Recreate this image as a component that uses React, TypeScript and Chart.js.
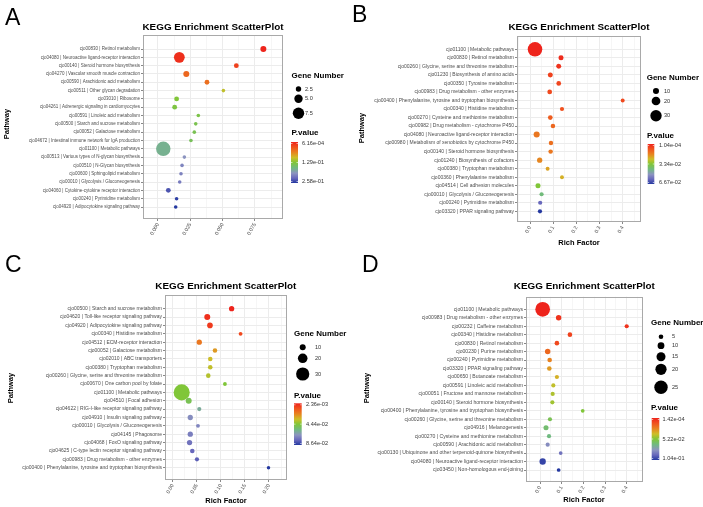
import React, { useEffect, useRef } from "react";
import { Chart, registerables } from "chart.js";

Chart.register(...registerables);

const FONT = '"Liberation Sans", Arial, Helvetica, sans-serif';

// ---------------- Panel A ----------------
const A_PATHWAYS = [
  "cjo00830 | Retinol metabolism",
  "cjo04080 | Neuroactive ligand-receptor interaction",
  "cjo00140 | Steroid hormone biosynthesis",
  "cjo04270 | Vascular smooth muscle contraction",
  "cjo00590 | Arachidonic acid metabolism",
  "cjo00511 | Other glycan degradation",
  "cjo03010 | Ribosome",
  "cjo04261 | Adrenergic signaling in cardiomyocytes",
  "cjo00591 | Linoleic acid metabolism",
  "cjo00500 | Starch and sucrose metabolism",
  "cjo00052 | Galactose metabolism",
  "cjo04672 | Intestinal immune network for IgA production",
  "cjo01100 | Metabolic pathways",
  "cjo00513 | Various types of N-glycan biosynthesis",
  "cjo00510 | N-Glycan biosynthesis",
  "cjo00600 | Sphingolipid metabolism",
  "cjo00010 | Glycolysis / Gluconeogenesis",
  "cjo04060 | Cytokine-cytokine receptor interaction",
  "cjo00240 | Pyrimidine metabolism",
  "cjo04920 | Adipocytokine signaling pathway",
];
const A_RICH = [0.0815, 0.0165, 0.0606, 0.0219, 0.0379, 0.0506, 0.0144, 0.0129, 0.0312, 0.0292, 0.0281, 0.0255, 0.0041, 0.0204, 0.0186, 0.0178, 0.0168, 0.008, 0.0144, 0.0137];
const A_GENES = [3, 7, 2, 3, 2, 1, 2, 2, 1, 1, 1, 1, 10, 1, 1, 1, 1, 2, 1, 1];
const A_PVALUE = [0.000616, 0.0083, 0.021, 0.047, 0.052, 0.104, 0.129, 0.134, 0.137, 0.14, 0.142, 0.145, 0.171, 0.196, 0.207, 0.209, 0.214, 0.24, 0.253, 0.258];
const A_TICKS = [0, 0.025, 0.05, 0.075];
const A_TICK_LABELS = ["0.000", "0.025", "0.050", "0.075"];
const A_GENE_BREAKS = [2.5, 5, 7.5];
const A_GENE_LABELS = ["2.5", "5.0", "7.5"];
const A_P_LABELS = ["6.16e-04", "1.29e-01", "2.58e-01"];

// ---------------- Panel B ----------------
const B_PATHWAYS = [
  "cjo01100 | Metabolic pathways",
  "cjo00830 | Retinol metabolism",
  "cjo00260 | Glycine, serine and threonine metabolism",
  "cjo01230 | Biosynthesis of amino acids",
  "cjo00350 | Tyrosine metabolism",
  "cjo00983 | Drug metabolism - other enzymes",
  "cjo00400 | Phenylalanine, tyrosine and tryptophan biosynthesis",
  "cjo00340 | Histidine metabolism",
  "cjo00270 | Cysteine and methionine metabolism",
  "cjo00982 | Drug metabolism - cytochrome P450",
  "cjo04080 | Neuroactive ligand-receptor interaction",
  "cjo00980 | Metabolism of xenobiotics by cytochrome P450",
  "cjo00140 | Steroid hormone biosynthesis",
  "cjo01240 | Biosynthesis of cofactors",
  "cjo00380 | Tryptophan metabolism",
  "cjo00360 | Phenylalanine metabolism",
  "cjo04514 | Cell adhesion molecules",
  "cjo00010 | Glycolysis / Gluconeogenesis",
  "cjo00240 | Pyrimidine metabolism",
  "cjo03320 | PPAR signaling pathway",
];
const B_RICH = [0.0216, 0.134, 0.124, 0.0876, 0.124, 0.085, 0.4, 0.138, 0.0876, 0.099, 0.0287, 0.0905, 0.089, 0.0417, 0.076, 0.138, 0.0345, 0.05, 0.044, 0.043];
const B_GENES = [42, 6, 6, 6, 5, 5, 2, 3, 5, 4, 10, 4, 4, 7, 2, 2, 6, 3, 3, 3];
const B_PVALUE = [0.000104, 0.00144, 0.00277, 0.00543, 0.0061, 0.00676, 0.0068, 0.0081, 0.0101, 0.0121, 0.0148, 0.0134, 0.0148, 0.0174, 0.0214, 0.0234, 0.0334, 0.0414, 0.0587, 0.0667];
const B_TICKS = [0, 0.1, 0.2, 0.3, 0.4];
const B_TICK_LABELS = ["0.0", "0.1", "0.2", "0.3", "0.4"];
const B_GENE_BREAKS = [10, 20, 30];
const B_GENE_LABELS = ["10", "20", "30"];
const B_P_LABELS = ["1.04e-04", "3.34e-02", "6.67e-02"];

// ---------------- Panel C ----------------
const C_PATHWAYS = [
  "cjo00500 | Starch and sucrose metabolism",
  "cjo04620 | Toll-like receptor signaling pathway",
  "cjo04920 | Adipocytokine signaling pathway",
  "cjo00340 | Histidine metabolism",
  "cjo04512 | ECM-receptor interaction",
  "cjo00052 | Galactose metabolism",
  "cjo02010 | ABC transporters",
  "cjo00380 | Tryptophan metabolism",
  "cjo00260 | Glycine, serine and threonine metabolism",
  "cjo00670 | One carbon pool by folate",
  "cjo01100 | Metabolic pathways",
  "cjo04510 | Focal adhesion",
  "cjo04622 | RIG-I-like receptor signaling pathway",
  "cjo04910 | Insulin signaling pathway",
  "cjo00010 | Glycolysis / Gluconeogenesis",
  "cjo04145 | Phagosome",
  "cjo04068 | FoxO signaling pathway",
  "cjo04625 | C-type lectin receptor signaling pathway",
  "cjo00983 | Drug metabolism - other enzymes",
  "cjo00400 | Phenylalanine, tyrosine and tryptophan biosynthesis",
];
const C_RICH = [0.1224, 0.0718, 0.0774, 0.141, 0.0552, 0.0878, 0.078, 0.078, 0.0739, 0.1085, 0.0187, 0.0332, 0.0552, 0.0365, 0.0525, 0.0365, 0.035, 0.0407, 0.0504, 0.199];
const C_GENES = [8, 10, 9, 4, 8, 6, 6, 6, 6, 4, 38, 10, 5, 8, 4, 8, 8, 6, 5, 3];
const C_PVALUE = [0.00236, 0.0049, 0.0074, 0.0108, 0.0209, 0.0276, 0.0343, 0.036, 0.0377, 0.0444, 0.0444, 0.0486, 0.0595, 0.0679, 0.0696, 0.0713, 0.0738, 0.0763, 0.078, 0.0864];
const C_TICKS = [0, 0.05, 0.1, 0.15, 0.2];
const C_TICK_LABELS = ["0.00", "0.05", "0.10", "0.15", "0.20"];
const C_GENE_BREAKS = [10, 20, 30];
const C_GENE_LABELS = ["10", "20", "30"];
const C_P_LABELS = ["2.36e-03", "4.44e-02", "8.64e-02"];

// ---------------- Panel D ----------------
const D_PATHWAYS = [
  "cjo01100 | Metabolic pathways",
  "cjo00983 | Drug metabolism - other enzymes",
  "cjo00232 | Caffeine metabolism",
  "cjo00340 | Histidine metabolism",
  "cjo00830 | Retinol metabolism",
  "cjo00230 | Purine metabolism",
  "cjo00240 | Pyrimidine metabolism",
  "cjo03320 | PPAR signaling pathway",
  "cjo00650 | Butanoate metabolism",
  "cjo00591 | Linoleic acid metabolism",
  "cjo00051 | Fructose and mannose metabolism",
  "cjo00140 | Steroid hormone biosynthesis",
  "cjo00400 | Phenylalanine, tyrosine and tryptophan biosynthesis",
  "cjo00260 | Glycine, serine and threonine metabolism",
  "cjo04916 | Melanogenesis",
  "cjo00270 | Cysteine and methionine metabolism",
  "cjo00590 | Arachidonic acid metabolism",
  "cjo00130 | Ubiquinone and other terpenoid-quinone biosynthesis",
  "cjo04080 | Neuroactive ligand-receptor interaction",
  "cjo03450 | Non-homologous end-joining",
];
const D_RICH = [0.0123, 0.086, 0.4, 0.138, 0.078, 0.0354, 0.0446, 0.043, 0.078, 0.0615, 0.0585, 0.057, 0.197, 0.046, 0.0277, 0.0415, 0.0354, 0.0954, 0.0123, 0.086];
const D_GENES = [28, 7, 4, 5, 5, 7, 5, 5, 4, 4, 4, 4, 3, 4, 6, 4, 4, 3, 9, 3];
const D_PVALUE = [0.000142, 0.0043, 0.0043, 0.0085, 0.0105, 0.0188, 0.0261, 0.0313, 0.0365, 0.0417, 0.0448, 0.0469, 0.0521, 0.0573, 0.0625, 0.0656, 0.0812, 0.0885, 0.1009, 0.104];
const D_TICKS = [0, 0.1, 0.2, 0.3, 0.4];
const D_TICK_LABELS = ["0.0", "0.1", "0.2", "0.3", "0.4"];
const D_GENE_BREAKS = [5, 10, 15, 20, 25];
const D_GENE_LABELS = ["5", "10", "15", "20", "25"];
const D_P_LABELS = ["1.42e-04", "5.22e-02", "1.04e-01"];

// colour ramp (low p = red, high p = blue)
const RAMP: [number, number[]][] = [
  [0, [238, 36, 28]],
  [0.12, [240, 80, 30]],
  [0.25, [232, 130, 32]],
  [0.38, [206, 190, 40]],
  [0.5, [128, 198, 56]],
  [0.63, [112, 186, 128]],
  [0.76, [140, 148, 192]],
  [0.88, [104, 104, 188]],
  [1, [36, 56, 160]],
];
function rampColor(t: number) {
  t = Math.max(0, Math.min(1, t));
  for (let i = 1; i < RAMP.length; i++) {
    const [t1, c1] = RAMP[i];
    const [t0, c0] = RAMP[i - 1];
    if (t <= t1) {
      const f = (t - t0) / (t1 - t0);
      const c = c0.map((v, k) => Math.round(v + (c1[k] - v) * f));
      return `rgb(${c[0]},${c[1]},${c[2]})`;
    }
  }
  return "rgb(36,56,160)";
}

type Panel = {
  letter: string;
  canvas: [number, number, number, number];
  plot: [number, number, number, number];
  rows: [number, number];
  xRange: [number, number];
  pathways: string[];
  rich: number[];
  genes: number[];
  pvalue: number[];
  ticks: number[];
  tickLabels: string[];
  geneBreaks: number[];
  geneLabels: string[];
  pLabels: string[];
  radius: [number, number];
  yFont: number;
  titleY: number;
  letterPos: [number, number];
  pathwayPos: [number, number];
  richPos: [number, number] | null;
  geneTitle: [number, number];
  geneCircles: { x: number; ys: number[]; lx: number };
  pTitle: [number, number];
  bar: [number, number, number, number];
  barLabelX: number;
};

const PANELS: Panel[] = [
  {
    letter: "A", canvas: [0, 0, 351, 253], plot: [143, 35, 283, 219], rows: [49, 207], xRange: [-0.0116, 0.0967],
    pathways: A_PATHWAYS, rich: A_RICH, genes: A_GENES, pvalue: A_PVALUE, ticks: A_TICKS, tickLabels: A_TICK_LABELS,
    geneBreaks: A_GENE_BREAKS, geneLabels: A_GENE_LABELS, pLabels: A_P_LABELS, radius: [1.2, 0.6],
    yFont: 4.5, titleY: 27,
    letterPos: [5, 25], pathwayPos: [7, 124], richPos: null,
    geneTitle: [291.5, 76], geneCircles: { x: 298.5, ys: [89, 98.7, 113.3], lx: 305 },
    pTitle: [291.5, 133], bar: [291, 142, 298, 183], barLabelX: 302,
  },
  {
    letter: "B", canvas: [351, 0, 352, 253], plot: [517, 36, 641, 222], rows: [49.3, 211.3], xRange: [-0.0561, 0.479],
    pathways: B_PATHWAYS, rich: B_RICH, genes: B_GENES, pvalue: B_PVALUE, ticks: B_TICKS, tickLabels: B_TICK_LABELS,
    geneBreaks: B_GENE_BREAKS, geneLabels: B_GENE_LABELS, pLabels: B_P_LABELS, radius: [1.7, 0.133],
    yFont: 5.0, titleY: 27,
    letterPos: [352, 22], pathwayPos: [362, 128], richPos: [579, 243],
    geneTitle: [646.7, 78], geneCircles: { x: 656, ys: [91, 101, 115.7], lx: 664 },
    pTitle: [647, 136], bar: [647.7, 144, 654.3, 184], barLabelX: 659,
  },
  {
    letter: "C", canvas: [0, 253, 351, 254], plot: [165, 295, 286.7, 480], rows: [308.7, 467.7], xRange: [-0.016, 0.2368],
    pathways: C_PATHWAYS, rich: C_RICH, genes: C_GENES, pvalue: C_PVALUE, ticks: C_TICKS, tickLabels: C_TICK_LABELS,
    geneBreaks: C_GENE_BREAKS, geneLabels: C_GENE_LABELS, pLabels: C_P_LABELS, radius: [1.2, 0.18],
    yFont: 5.0, titleY: 286.7,
    letterPos: [5, 272], pathwayPos: [11, 388], richPos: [226, 501],
    geneTitle: [294, 334], geneCircles: { x: 302.7, ys: [347.3, 358.3, 374], lx: 315 },
    pTitle: [294, 396], bar: [294, 403.3, 301.7, 445], barLabelX: 306,
  },
  {
    letter: "D", canvas: [351, 253, 352, 254], plot: [526, 296.7, 642.7, 482], rows: [309.3, 470], xRange: [-0.0646, 0.4738],
    pathways: D_PATHWAYS, rich: D_RICH, genes: D_GENES, pvalue: D_PVALUE, ticks: D_TICKS, tickLabels: D_TICK_LABELS,
    geneBreaks: D_GENE_BREAKS, geneLabels: D_GENE_LABELS, pLabels: D_P_LABELS, radius: [1.2, 0.22],
    yFont: 5.1, titleY: 286.7,
    letterPos: [362, 272], pathwayPos: [367, 388], richPos: [584, 500],
    geneTitle: [651, 323], geneCircles: { x: 661, ys: [336.7, 345.7, 356.7, 369.3, 387.3], lx: 672 },
    pTitle: [651, 408], bar: [651.7, 418, 659.3, 460], barLabelX: 662.5,
  },
];

function PanelChart({ p }: { p: Panel }) {
  const ref = useRef<HTMLCanvasElement | null>(null);
  useEffect(() => {
    const canvas = ref.current;
    if (!canvas) return;
    const [cx, cy, cw, ch] = p.canvas;
    const [L, T, R, B] = p.plot;
    const n = p.pathways.length;
    const s = (p.rows[1] - p.rows[0]) / (n - 1);
    const yMin = -(p.rows[0] - T) / s;
    const yMax = n - 1 + (B - p.rows[1]) / s;
    const pMin = Math.min(...p.pvalue);
    const pMax = Math.max(...p.pvalue);
    const rad = (g: number) => p.radius[0] + p.radius[1] * g;
    const step = p.ticks[1] - p.ticks[0];
    const minor: number[] = [];
    for (let v = p.ticks[0] - step / 2; v <= p.xRange[1]; v += step) {
      if (v >= p.xRange[0]) minor.push(+v.toFixed(6));
    }
    const allX = [...p.ticks, ...minor].sort((a, b) => a - b);
    const isMinor = (v: number) => minor.some((m) => Math.abs(m - v) < 1e-9);
    const labelFor = (v: number) => {
      const i = p.ticks.findIndex((t) => Math.abs(t - v) < 1e-9);
      return i >= 0 ? p.tickLabels[i] : "";
    };

    const points = p.rich.map((x, i) => ({ x, y: i }));
    const radii = p.genes.map(rad);
    const colors = p.pvalue.map((v) => rampColor((v - pMin) / (pMax - pMin)));

    const decor = {
      id: "decor" + p.letter,
      afterDraw(chart: any) {
        const ctx: CanvasRenderingContext2D = chart.ctx;
        const ox = cx, oy = cy;
        ctx.save();
        const a = chart.chartArea;
        ctx.strokeStyle = "#A9A9A9";
        ctx.lineWidth = 1;
        ctx.strokeRect(Math.round(a.left) + 0.5, Math.round(a.top) + 0.5, Math.round(a.right - a.left) - 1, Math.round(a.bottom - a.top) - 1);
        ctx.fillStyle = "#000";
        ctx.textAlign = "left";
        ctx.textBaseline = "alphabetic";
        ctx.font = `23px ${FONT}`;
        ctx.fillText(p.letter, p.letterPos[0] - ox, p.letterPos[1] - oy);
        ctx.font = `bold 9.9px ${FONT}`;
        ctx.textAlign = "center";
        ctx.textBaseline = "middle";
        ctx.fillText("KEGG Enrichment ScatterPlot", (L + R) / 2 - ox, p.titleY - oy);
        ctx.font = `bold 7.5px ${FONT}`;
        if (p.richPos) ctx.fillText("Rich Factor", p.richPos[0] - ox, p.richPos[1] - oy);
        ctx.save();
        ctx.translate(p.pathwayPos[0] - ox, p.pathwayPos[1] - oy);
        ctx.rotate(-Math.PI / 2);
        ctx.fillText("Pathway", 0, 0);
        ctx.restore();
        ctx.textAlign = "left";
        ctx.font = `bold 8px ${FONT}`;
        ctx.fillText("Gene Number", p.geneTitle[0] - ox, p.geneTitle[1] - oy);
        p.geneBreaks.forEach((g, i) => {
          const y = p.geneCircles.ys[i] - oy;
          ctx.fillStyle = "#000";
          ctx.beginPath();
          ctx.arc(p.geneCircles.x - ox, y, rad(g), 0, Math.PI * 2);
          ctx.fill();
          ctx.fillStyle = "#333";
          ctx.font = `5.6px ${FONT}`;
          ctx.fillText(p.geneLabels[i], p.geneCircles.lx - ox, y);
        });
        ctx.fillStyle = "#000";
        ctx.font = `bold 8px ${FONT}`;
        ctx.fillText("P.value", p.pTitle[0] - ox, p.pTitle[1] - oy);
        const [bx0, by0, bx1, by1] = p.bar;
        const grad = ctx.createLinearGradient(0, by0 - oy, 0, by1 - oy);
        RAMP.forEach(([t]) => grad.addColorStop(t, rampColor(t)));
        ctx.fillStyle = grad;
        ctx.fillRect(bx0 - ox, by0 - oy, bx1 - bx0, by1 - by0);
        ctx.fillStyle = "#333";
        ctx.font = `5.6px ${FONT}`;
        const lys = [by0 + 1.5, (by0 + by1) / 2, by1 - 1.5];
        p.pLabels.forEach((lab, i) => {
          ctx.fillText(lab, p.barLabelX - ox, lys[i] - oy);
          ctx.strokeStyle = "#fff";
          ctx.lineWidth = 0.6;
          ctx.beginPath();
          ctx.moveTo(bx0 - ox, lys[i] - oy);
          ctx.lineTo(bx0 - ox + 1.5, lys[i] - oy);
          ctx.moveTo(bx1 - ox - 1.5, lys[i] - oy);
          ctx.lineTo(bx1 - ox, lys[i] - oy);
          ctx.stroke();
        });
        ctx.restore();
      },
    };

    const chart = new Chart(canvas, {
      type: "scatter",
      data: {
        datasets: [
          {
            data: points,
            pointRadius: radii,
            pointHoverRadius: radii,
            backgroundColor: colors,
            borderWidth: 0,
          } as any,
        ],
      },
      options: {
        animation: false,
        responsive: false,
        maintainAspectRatio: false,
        devicePixelRatio: 1,
        events: [],
        layout: { padding: { top: T - cy, right: cx + cw - R, left: 0, bottom: 0 } },
        plugins: { legend: { display: false }, tooltip: { enabled: false }, title: { display: false } },
        scales: {
          x: {
            type: "linear",
            bounds: "data",
            min: p.xRange[0],
            max: p.xRange[1],
            afterBuildTicks: (sc: any) => {
              sc.ticks = allX.map((v) => ({ value: v }));
            },
            afterFit: (sc: any) => {
              sc.height = cy + ch - B;
            },
            ticks: {
              autoSkip: false,
              minRotation: 60,
              maxRotation: 60,
              padding: 1,
              color: "#4D4D4D",
              font: { family: FONT, size: 5.2 },
              callback: (v: any) => labelFor(Number(v)),
            },
            grid: {
              color: (c: any) => (c.tick && isMinor(c.tick.value) ? "#F6F6F6" : "#ECECEC"),
              tickColor: (c: any) => (c.tick && isMinor(c.tick.value) ? "rgba(0,0,0,0)" : "#888"),
              tickLength: 2,
              lineWidth: 1,
            },
            border: { display: false },
          },
          y: {
            type: "linear",
            reverse: true,
            bounds: "data",
            min: yMin,
            max: yMax,
            afterBuildTicks: (sc: any) => {
              sc.ticks = p.pathways.map((_, i) => ({ value: i }));
            },
            afterFit: (sc: any) => {
              sc.width = L - cx;
            },
            ticks: {
              autoSkip: false,
              padding: 1,
              color: "#4D4D4D",
              font: { family: FONT, size: p.yFont },
              callback: (v: any) => p.pathways[Math.round(Number(v))] ?? "",
            },
            grid: { color: "#ECECEC", tickColor: "#888", tickLength: 2, lineWidth: 1 },
            border: { display: false },
          },
        },
      } as any,
      plugins: [decor],
    });
    return () => chart.destroy();
  }, [p]);
  const [cx, cy, cw, ch] = p.canvas;
  return (
    <canvas
      ref={ref}
      width={cw}
      height={ch}
      style={{ position: "absolute", left: cx, top: cy, width: cw, height: ch }}
    />
  );
}

export default function App() {
  return (
    <div style={{ position: "absolute", left: 0, top: 0, width: 703, height: 507, background: "#fff", overflow: "hidden" }}>
      {PANELS.map((p) => (
        <PanelChart key={p.letter} p={p} />
      ))}
    </div>
  );
}
